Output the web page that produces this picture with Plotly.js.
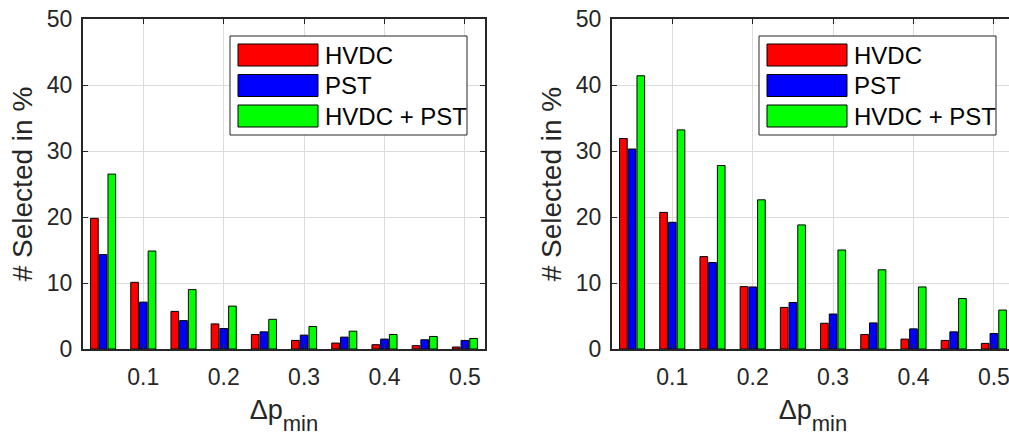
<!DOCTYPE html>
<html>
<head>
<meta charset="utf-8">
<script src="https://cdn.plot.ly/plotly-3.0.1.min.js"></script>
<style>
  html, body { margin: 0; padding: 0; overflow: hidden; background: #fff; }
  #chart { width: 1030px; height: 436px; }
</style>
</head>
<body>
<div id="chart"></div>
<script>
// ---- data ----
const deltaPmin = [0.05, 0.10, 0.15, 0.20, 0.25, 0.30, 0.35, 0.40, 0.45, 0.50];
const seriesNames = ['HVDC', 'PST', 'HVDC + PST'];
const seriesColors = ['#ff0000', '#0000ff', '#00ff00'];

// left panel
const leftHVDC    = [19.8, 10.1, 5.7, 3.8, 2.2, 1.3, 0.9, 0.65, 0.5, 0.3];
const leftPST     = [14.3, 7.1, 4.3, 3.1, 2.6, 2.1, 1.8, 1.5, 1.4, 1.3];
const leftBoth    = [26.5, 14.85, 9.0, 6.5, 4.5, 3.4, 2.7, 2.2, 1.9, 1.6];

// right panel
const rightHVDC   = [31.9, 20.7, 14.0, 9.45, 6.3, 3.9, 2.2, 1.5, 1.3, 0.85];
const rightPST    = [30.3, 19.2, 13.1, 9.4, 7.05, 5.3, 3.95, 3.05, 2.6, 2.35];
const rightBoth   = [41.4, 33.2, 27.8, 22.6, 18.8, 15.0, 12.0, 9.4, 7.65, 5.9];

const yTickVals = [0, 10, 20, 30, 40, 50];
const xTickVals = [0.1, 0.2, 0.3, 0.4, 0.5];
const xTickText = ['0.1', '0.2', '0.3', '0.4', '0.5'];
const yTitle = '# Selected in %';
const xTitle = '\u0394p<span style="font-size:22px;baseline-shift:-12px">min</span>';

// ---- traces ----
const panels = [
  {xa: 'x', ya: 'y', vals: [leftHVDC, leftPST, leftBoth]},
  {xa: 'x2', ya: 'y2', vals: [rightHVDC, rightPST, rightBoth]}
];
const traces = [];
panels.forEach(p => {
  p.vals.forEach((v, i) => {
    traces.push({
      type: 'bar', x: deltaPmin, y: v, name: seriesNames[i],
      xaxis: p.xa, yaxis: p.ya, showlegend: false,
      marker: {color: seriesColors[i], line: {color: '#000', width: 1}},
      hoverinfo: 'x+y+name'
    });
  });
});

// ---- layout ----
const FONT = 'Liberation Sans, Arial, Helvetica, sans-serif';
const AX = '#262626';
function xaxisDef(domain, anchor) {
  return {
    domain: domain, anchor: anchor, range: [0.025, 0.525],
    tickvals: xTickVals, ticktext: xTickText,
    ticks: 'inside', ticklen: 5, tickwidth: 1, tickcolor: AX,
    showline: true, linewidth: 2, linecolor: AX, mirror: 'ticks',
    showgrid: true, gridcolor: '#dcdcdc', gridwidth: 1,
    zeroline: false,
    tickfont: {family: FONT, size: 23, color: AX},
    ticklabelstandoff: 6,
    title: {text: xTitle, font: {family: FONT, size: 27, color: AX}, standoff: 15}
  };
}
function yaxisDef(anchor) {
  return {
    domain: [0, 1], anchor: anchor, range: [0, 50],
    tickvals: yTickVals,
    ticks: 'inside', ticklen: 5, tickwidth: 1, tickcolor: AX,
    showline: true, linewidth: 2, linecolor: AX, mirror: 'ticks',
    showgrid: true, gridcolor: '#dcdcdc', gridwidth: 1,
    zeroline: false,
    tickfont: {family: FONT, size: 23, color: AX},
    ticklabelstandoff: 4,
    title: {text: yTitle, font: {family: FONT, size: 28, color: AX}, standoff: 6}
  };
}

// plot-area geometry (pixels) used only to place the custom legend box
const PW = 402, PH = 330;
function fx(px) { return px / PW; }
function fy(py) { return 1 - py / PH; }

const shapes = [];
const annotations = [];
[['x domain', 'y domain'], ['x2 domain', 'y2 domain']].forEach(([xr, yr]) => {
  shapes.push({type: 'rect', xref: xr, yref: yr,
    x0: fx(147), x1: fx(384), y0: fy(116), y1: fy(17),
    fillcolor: '#fff', line: {color: '#262626', width: 1}, layer: 'above'});
  seriesNames.forEach((nm, i) => {
    const top = 25 + i * 30.5;
    shapes.push({type: 'rect', xref: xr, yref: yr,
      x0: fx(155), x1: fx(235), y0: fy(top + 22), y1: fy(top),
      fillcolor: seriesColors[i], line: {color: '#000', width: 1}, layer: 'above'});
    annotations.push({xref: xr, yref: yr, x: fx(240), y: fy(top + 11),
      xanchor: 'left', yanchor: 'middle', showarrow: false, text: nm,
      font: {family: FONT, size: 24, color: '#000'}});
  });
});

const layout = {
  width: 1030, height: 436,
  margin: {l: 83, r: 16, t: 19, b: 87},
  paper_bgcolor: '#fff', plot_bgcolor: '#fff',
  barmode: 'group', bargap: 0.35, bargroupgap: 0.12,
  showlegend: false,
  xaxis: xaxisDef([0, 402 / 931], 'y'),
  yaxis: yaxisDef('x'),
  xaxis2: xaxisDef([529 / 931, 1], 'y2'),
  yaxis2: yaxisDef('x2'),
  shapes: shapes,
  annotations: annotations,
  font: {family: FONT}
};

Plotly.newPlot('chart', traces, layout, {displayModeBar: false, staticPlot: true});
</script>
</body>
</html>
